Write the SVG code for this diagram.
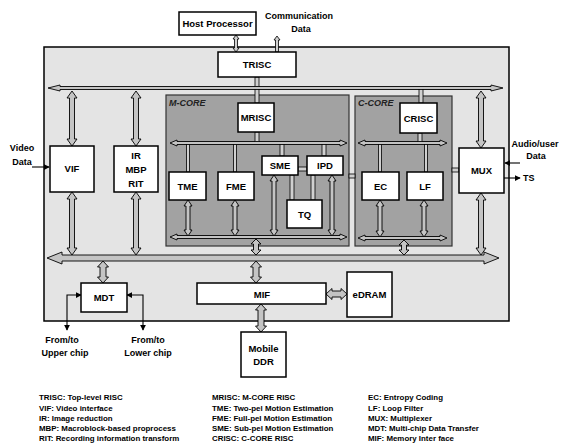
<svg xmlns="http://www.w3.org/2000/svg" width="562" height="446" viewBox="0 0 562 446">
<defs>
<style>
text{font-family:"Liberation Sans",Arial,sans-serif;font-weight:bold;fill:#000}
.blk{fill:#fff;stroke:#000;stroke-width:1.5}
.lbl{font-size:9.5px;text-anchor:middle}
.leg{font-size:7.9px}
.ext{font-size:9px}
.core{fill:#a2a2a2;stroke:#333;stroke-width:1.2}
.core-t{font-size:9px;font-style:italic;fill:#222}
.fa{fill:#c4c4c4;stroke:#000;stroke-width:0.9}
.tl{fill:#d0d0d0;stroke:#000;stroke-width:0.8}
.ln{fill:none;stroke:#000;stroke-width:1.1}
</style>
<marker id="ah" viewBox="0 0 8 8" refX="7" refY="4" markerWidth="6" markerHeight="6" orient="auto-start-reverse" markerUnits="userSpaceOnUse">
<path d="M0,0 L8,4 L0,8 Z" fill="#000"/>
</marker>
</defs>
<rect width="562" height="446" fill="#fff"/>

<g id="chip">
<rect x="44" y="47" width="465" height="274" fill="#e4e4e4" stroke="#000" stroke-width="1.5"/>
</g>
<g id="m-core">
<rect class="core" x="166" y="95" width="183" height="151"/>
<text class="core-t" x="169" y="106">M-CORE</text>
</g>
<g id="c-core">
<rect class="core" x="355" y="96" width="97" height="150"/>
<text class="core-t" x="358" y="106">C-CORE</text>
</g>

<g id="connectors">
<!-- buses -->
<path class="fa" d="M48 88 L60 85 L60 86.5 L491 86.5 L491 85 L503 88 L491 91 L491 89.5 L60 89.5 L60 91 Z"/>
<path class="fa" d="M47 258 L62 252 L62 255 L484 255 L484 252 L499 258 L484 264 L484 261 L62 261 L62 264 Z"/>
<path class="fa" d="M170 143 L177 140 L177 141.5 L340 141.5 L340 140 L347 143 L340 146 L340 144.5 L177 144.5 L177 146 Z"/>
<path class="fa" d="M170 237 L177 234 L177 235.5 L340 235.5 L340 234 L347 237 L340 240 L340 238.5 L177 238.5 L177 240 Z"/>
<path class="fa" d="M358 143 L365 140 L365 141.5 L440 141.5 L440 140 L447 143 L440 146 L440 144.5 L365 144.5 L365 146 Z"/>
<path class="fa" d="M358 238 L365 235 L365 236.5 L440 236.5 L440 235 L447 238 L440 241 L440 239.5 L365 239.5 L365 241 Z"/>
<!-- fat double arrows -->
<path class="fa" d="M72 91 L77 98 L74.5 98 L74.5 139 L77 139 L72 146 L67 139 L69.5 139 L69.5 98 L67 98 Z"/>
<path class="fa" d="M136 91 L141 98 L138.5 98 L138.5 139 L141 139 L136 146 L131 139 L133.5 139 L133.5 98 L131 98 Z"/>
<path class="fa" d="M72 192 L77 199 L74.5 199 L74.5 248 L77 248 L72 255 L67 248 L69.5 248 L69.5 199 L67 199 Z"/>
<path class="fa" d="M136 192 L141 199 L138.5 199 L138.5 248 L141 248 L136 255 L131 248 L133.5 248 L133.5 199 L131 199 Z"/>
<path class="fa" d="M481 91 L486 98 L483.5 98 L483.5 141 L486 141 L481 148 L476 141 L478.5 141 L478.5 98 L476 98 Z"/>
<path class="fa" d="M481 193 L486 200 L483.5 200 L483.5 248 L486 248 L481 255 L476 248 L478.5 248 L478.5 200 L476 200 Z"/>
<path class="fa" d="M188 200 L192 206 L190 206 L190 230 L192 230 L188 236 L184 230 L186 230 L186 206 L184 206 Z"/>
<path class="fa" d="M235 200 L239 206 L237 206 L237 230 L239 230 L235 236 L231 230 L233 230 L233 206 L231 206 Z"/>
<path class="fa" d="M274 175 L278 181 L276 181 L276 230 L278 230 L274 236 L270 230 L272 230 L272 181 L270 181 Z"/>
<path class="fa" d="M332 175 L336 181 L334 181 L334 230 L336 230 L332 236 L328 230 L330 230 L330 181 L328 181 Z"/>
<path class="fa" d="M380 200 L384 206 L382 206 L382 231 L384 231 L380 237 L376 231 L378 231 L378 206 L376 206 Z"/>
<path class="fa" d="M424 200 L428 206 L426 206 L426 231 L428 231 L424 237 L420 231 L422 231 L422 206 L420 206 Z"/>
<path class="fa" d="M103 261 L108.5 267 L106 267 L106 277 L108.5 277 L103 283 L97.5 277 L100 277 L100 267 L97.5 267 Z"/>
<path class="fa" d="M256 261 L261.5 267 L259 267 L259 277 L261.5 277 L256 283 L250.5 277 L253 277 L253 267 L250.5 267 Z"/>
<path class="fa" d="M256 239 L261 244 L258.5 244 L258.5 250 L261 250 L256 255 L251 250 L253.5 250 L253.5 244 L251 244 Z"/>
<path class="fa" d="M404 240 L409 245 L406.5 245 L406.5 250 L409 250 L404 255 L399 250 L401.5 250 L401.5 245 L399 245 Z"/>
<path class="fa" d="M261 304 L266.5 310 L264 310 L264 326 L266.5 326 L261 332 L255.5 326 L258 326 L258 310 L255.5 310 Z"/>
<path class="fa" d="M326 294 L332 288.5 L332 291 L341 291 L341 288.5 L347 294 L341 299.5 L341 297 L332 297 L332 299.5 Z"/>
<!-- thin links -->
<path class="tl" d="M236 35 L239 39 L237.5 39 L237.5 48 L239 48 L236 52 L233 48 L234.5 48 L234.5 39 L233 39 Z"/>
<path class="tl" d="M277 36 L280 40 L278.5 40 L278.5 52 L275.5 52 L275.5 40 L274 40 Z"/>
<rect class="tl" x="255" y="77" width="4" height="9.5"/>
<rect class="tl" x="255" y="89.5" width="4" height="13.5"/>
<rect class="tl" x="255" y="132" width="4" height="9.5"/>
<rect class="tl" x="186.5" y="144.5" width="3" height="27.5"/>
<rect class="tl" x="233.5" y="144.5" width="3" height="27.5"/>
<rect class="tl" x="280" y="144.5" width="4" height="11.5"/>
<rect class="tl" x="322" y="144.5" width="4" height="11.5"/>
<rect class="tl" x="298" y="167" width="9" height="4"/>
<rect class="tl" x="290" y="175" width="4" height="25"/>
<rect class="tl" x="311" y="175" width="4" height="25"/>
<rect class="tl" x="349" y="174" width="6" height="4"/>
<rect class="tl" x="452" y="168" width="7" height="4"/>
<rect class="tl" x="419" y="89.5" width="4" height="13.5"/>
<rect class="tl" x="418" y="133" width="4" height="8.5"/>
<rect class="tl" x="378.5" y="144.5" width="3" height="27.5"/>
<rect class="tl" x="424.5" y="144.5" width="3" height="27.5"/>
<!-- external lines -->
<line class="ln" x1="32" y1="167" x2="49" y2="167" marker-end="url(#ah)"/>
<line class="ln" x1="520" y1="163" x2="505" y2="163" marker-end="url(#ah)"/>
<line class="ln" x1="504" y1="178" x2="520" y2="178" marker-end="url(#ah)"/>
<polyline class="ln" points="81,295 67,295 67,330" marker-start="url(#ah)" marker-end="url(#ah)"/>
<polyline class="ln" points="127,295 143,295 143,330" marker-start="url(#ah)" marker-end="url(#ah)"/>
</g>

<g id="host"><rect class="blk" x="179" y="12" width="77" height="23"/><text class="lbl" x="217.5" y="27">Host Processor</text></g>
<g id="trisc"><rect class="blk" x="218" y="52" width="78" height="25"/><text class="lbl" x="257" y="68">TRISC</text></g>
<g id="mrisc"><rect class="blk" x="238" y="103" width="36" height="29"/><text class="lbl" x="256" y="121">MRISC</text></g>
<g id="crisc"><rect class="blk" x="400" y="103" width="37" height="30"/><text class="lbl" x="418.5" y="121.5">CRISC</text></g>
<g id="vif"><rect class="blk" x="50" y="146" width="44" height="46"/><text class="lbl" x="72" y="172">VIF</text></g>
<g id="ir"><rect class="blk" x="114" y="146" width="44" height="46"/><text class="lbl" x="136" y="158.5">IR</text><text class="lbl" x="136" y="173">MBP</text><text class="lbl" x="136" y="187">RIT</text></g>
<g id="tme"><rect class="blk" x="169" y="172" width="37" height="28"/><text class="lbl" x="187.5" y="189.5">TME</text></g>
<g id="fme"><rect class="blk" x="218" y="172" width="36" height="28"/><text class="lbl" x="236" y="189.5">FME</text></g>
<g id="sme"><rect class="blk" x="262" y="156" width="36" height="19"/><text class="lbl" x="280" y="169">SME</text></g>
<g id="ipd"><rect class="blk" x="307" y="156" width="36" height="19"/><text class="lbl" x="325" y="169">IPD</text></g>
<g id="tq"><rect class="blk" x="287" y="200" width="35" height="28"/><text class="lbl" x="304.5" y="217.5">TQ</text></g>
<g id="ec"><rect class="blk" x="362" y="172" width="37" height="28"/><text class="lbl" x="380.5" y="189.5">EC</text></g>
<g id="lf"><rect class="blk" x="407" y="172" width="36" height="28"/><text class="lbl" x="425" y="189.5">LF</text></g>
<g id="mux"><rect class="blk" x="459" y="148" width="45" height="45"/><text class="lbl" x="481.5" y="174">MUX</text></g>
<g id="mdt"><rect class="blk" x="81" y="283" width="46" height="29"/><text class="lbl" x="104" y="301">MDT</text></g>
<g id="mif"><rect class="blk" x="197" y="283" width="129" height="21"/><text class="lbl" x="262" y="297.5">MIF</text></g>
<g id="edram"><rect class="blk" x="347" y="272" width="45" height="45"/><text class="lbl" x="369.5" y="298">eDRAM</text></g>
<g id="ddr"><rect class="blk" x="241" y="332" width="45" height="45"/><text class="lbl" x="263.5" y="352">Mobile</text><text class="lbl" x="263.5" y="365">DDR</text></g>

<g id="labels">
<text class="ext" x="299" y="19" text-anchor="middle">Communication</text>
<text class="ext" x="301" y="32" text-anchor="middle">Data</text>
<text class="ext" x="22" y="151" text-anchor="middle">Video</text>
<text class="ext" x="22" y="165" text-anchor="middle">Data</text>
<text class="ext" x="535" y="147" text-anchor="middle">Audio/user</text>
<text class="ext" x="536" y="159" text-anchor="middle">Data</text>
<text class="ext" x="523" y="181">TS</text>
<text class="ext" x="62" y="343" text-anchor="middle">From/to</text>
<text class="ext" x="65" y="356" text-anchor="middle">Upper chip</text>
<text class="ext" x="148" y="343" text-anchor="middle">From/to</text>
<text class="ext" x="148" y="356" text-anchor="middle">Lower chip</text>
</g>

<g id="legend">
<text class="leg" x="39" y="400">TRISC: Top-level RISC</text>
<text class="leg" x="39" y="411">VIF: Video interface</text>
<text class="leg" x="39" y="421">IR: Image reduction</text>
<text class="leg" x="39" y="431">MBP: Macroblock-based proprocess</text>
<text class="leg" x="39" y="441">RIT: Recording information transform</text>
<text class="leg" x="212" y="400">MRISC: M-CORE RISC</text>
<text class="leg" x="212" y="411">TME: Two-pel Motion Estimation</text>
<text class="leg" x="212" y="421">FME: Full-pel Motion Estimation</text>
<text class="leg" x="212" y="431">SME: Sub-pel Motion Estimation</text>
<text class="leg" x="212" y="441">CRISC: C-CORE RISC</text>
<text class="leg" x="368" y="400">EC: Entropy Coding</text>
<text class="leg" x="368" y="411">LF: Loop Filter</text>
<text class="leg" x="368" y="421">MUX: Multiplexer</text>
<text class="leg" x="368" y="431">MDT: Multi-chip Data Transfer</text>
<text class="leg" x="368" y="441">MIF: Memory Inter face</text>
</g>
</svg>
